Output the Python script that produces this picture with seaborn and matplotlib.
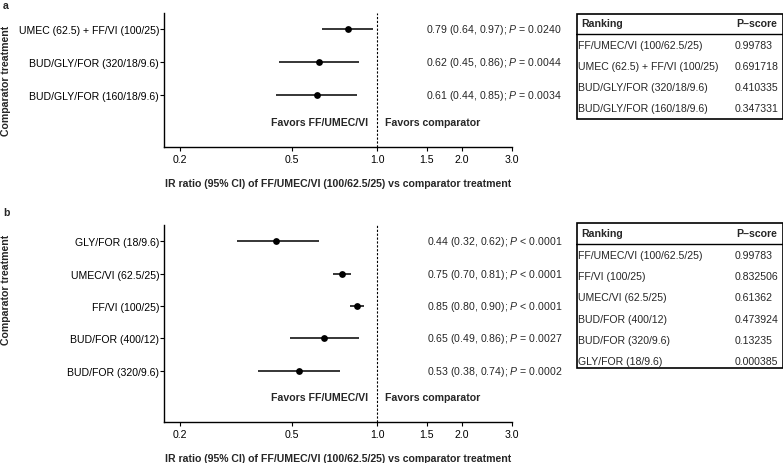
import numpy as np
import pandas as pd
import matplotlib
matplotlib.use("Agg")
import matplotlib.pyplot as plt
import seaborn as sns
from matplotlib.patches import Rectangle
from matplotlib.ticker import FixedLocator, FixedFormatter, NullLocator

sns.set_theme(style="white")
plt.rcParams['font.family'] = ['Liberation Sans', 'DejaVu Sans']
plt.rcParams['mathtext.fontset'] = 'custom'
plt.rcParams['mathtext.rm'] = 'Liberation Sans'
plt.rcParams['mathtext.it'] = 'Liberation Sans:italic'
plt.rcParams['mathtext.bf'] = 'Liberation Sans:bold'

# ---------------- data ----------------
a_labels = ["UMEC (62.5) + FF/VI (100/25)", "BUD/GLY/FOR (320/18/9.6)", "BUD/GLY/FOR (160/18/9.6)"]
a_est = [0.79, 0.62, 0.61]
a_lo = [0.64, 0.45, 0.44]
a_hi = [0.97, 0.86, 0.85]
a_text = ["0.79 (0.64, 0.97); $\\it{P}$ = 0.0240",
          "0.62 (0.45, 0.86); $\\it{P}$ = 0.0044",
          "0.61 (0.44, 0.85); $\\it{P}$ = 0.0034"]
a_rank = ["FF/UMEC/VI (100/62.5/25)", "UMEC (62.5) + FF/VI (100/25)",
          "BUD/GLY/FOR (320/18/9.6)", "BUD/GLY/FOR (160/18/9.6)"]
a_pscore = ["0.99783", "0.691718", "0.410335", "0.347331"]

b_labels = ["GLY/FOR (18/9.6)", "UMEC/VI (62.5/25)", "FF/VI (100/25)",
            "BUD/FOR (400/12)", "BUD/FOR (320/9.6)"]
b_est = [0.44, 0.75, 0.85, 0.65, 0.53]
b_lo = [0.32, 0.70, 0.80, 0.49, 0.38]
b_hi = [0.62, 0.81, 0.90, 0.86, 0.74]
b_text = ["0.44 (0.32, 0.62); $\\it{P}$ < 0.0001",
          "0.75 (0.70, 0.81); $\\it{P}$ < 0.0001",
          "0.85 (0.80, 0.90); $\\it{P}$ < 0.0001",
          "0.65 (0.49, 0.86); $\\it{P}$ = 0.0027",
          "0.53 (0.38, 0.74); $\\it{P}$ = 0.0002"]
b_rank = ["FF/UMEC/VI (100/62.5/25)", "FF/VI (100/25)", "UMEC/VI (62.5/25)",
          "BUD/FOR (400/12)", "BUD/FOR (320/9.6)", "GLY/FOR (18/9.6)"]
b_pscore = ["0.99783", "0.832506", "0.61362", "0.473924", "0.13235", "0.000385"]

xticks = [0.2, 0.5, 1.0, 1.5, 2.0, 3.0]
xticklabels = ["0.2", "0.5", "1.0", "1.5", "2.0", "3.0"]
xlabel = "IR ratio (95% CI) of FF/UMEC/VI (100/62.5/25) vs comparator treatment"
ylabel = "Comparator treatment"

W, H = 783, 464
fig = plt.figure(figsize=(W / 100, H / 100), dpi=100)
FS = 7.6


def px_axes(l, t, r, b):
    return fig.add_axes([l / W, 1 - b / H, (r - l) / W, (b - t) / H])


def forest(ax, labels, est, lo, hi, texts):
    n = len(labels)
    df = pd.DataFrame({"label": labels, "est": est, "lo": lo, "hi": hi, "pos": np.arange(n)})
    ax.hlines(df["pos"], df["lo"], df["hi"], color="black", lw=1.1, zorder=2)
    sns.scatterplot(data=df, x="est", y="pos", ax=ax, color="black", s=24,
                    edgecolor="black", linewidth=0, zorder=3, legend=False)
    ax.set_xscale("log")
    ax.set_xlim(0.176, 3.0)
    ax.set_ylim(n - 1 + 1.58, -0.5)
    ax.axvline(1.0, color="black", lw=0.8, ls=(0, (2, 1.5)), zorder=1)
    ax.xaxis.set_major_locator(FixedLocator(xticks))
    ax.xaxis.set_major_formatter(FixedFormatter(xticklabels))
    ax.xaxis.set_minor_locator(NullLocator())
    ax.set_yticks(range(n))
    ax.set_yticklabels(labels)
    ax.tick_params(axis="both", which="major", length=3, width=0.8, direction="out",
                   labelsize=FS, colors="black", bottom=True, left=True)
    ax.tick_params(axis="x", pad=2)
    ax.tick_params(axis="y", pad=0.5)
    for s in ["top", "right"]:
        ax.spines[s].set_visible(False)
    for s in ["left", "bottom"]:
        ax.spines[s].set_color("black")
        ax.spines[s].set_linewidth(1.0)
    ax.set_xlabel(xlabel, fontsize=FS, fontweight="bold", labelpad=10)
    ax.set_ylabel("")
    ax.grid(False)
    tr = ax.get_yaxis_transform()
    xr = (562 - 164) / (512 - 164)
    for i, t in enumerate(texts):
        ax.text(xr, i, t, transform=tr, ha="right", va="center", fontsize=FS, clip_on=False)
    ax.text(0.93, n - 1 + 0.82, "Favors FF/UMEC/VI", ha="right", va="center",
            fontsize=FS, fontweight="bold")
    ax.text(1.07, n - 1 + 0.82, "Favors comparator", ha="left", va="center",
            fontsize=FS, fontweight="bold")


def table(l, t, r, b, header_y, rows_y, ranks, scores):
    tax = px_axes(l, t, r, b)
    tax.set_xlim(l, r)
    tax.set_ylim(b, t)
    tax.axis("off")
    tax.add_patch(Rectangle((l + 0.5, t + 0.5), r - l - 1, b - t - 1, fill=False,
                            edgecolor="black", lw=1.2, clip_on=False))
    tax.plot([l, r], [header_y + 11, header_y + 11], color="black", lw=1.0)
    tax.text(l + 5, header_y, "Ranking", fontsize=FS, fontweight="bold", va="center", ha="left")
    tax.text(736, header_y, "P\u2013score", fontsize=FS, fontweight="bold", va="center", ha="left")
    for y, rk, sc in zip(rows_y, ranks, scores):
        tax.text(l + 2, y, rk, fontsize=FS, va="center", ha="left")
        tax.text(735, y, sc, fontsize=FS, va="center", ha="left")


ax_a = px_axes(164, 14, 512, 148)
forest(ax_a, a_labels, a_est, a_lo, a_hi, a_text)
ax_b = px_axes(164, 226, 512, 423)
forest(ax_b, b_labels, b_est, b_lo, b_hi, b_text)

fig.text(6 / W, 1 - 81 / H, ylabel, rotation=90, ha="center", va="center",
         fontsize=FS, fontweight="bold")
fig.text(6 / W, 1 - 290 / H, ylabel, rotation=90, ha="center", va="center",
         fontsize=FS, fontweight="bold")
fig.text(3 / W, 1 - 6 / H, "a", ha="left", va="center", fontsize=FS, fontweight="bold")
fig.text(3 / W, 1 - 213 / H, "b", ha="left", va="center", fontsize=FS, fontweight="bold")

table(576, 14, 783, 120, 24, [46, 67, 88, 109], a_rank, a_pscore)
table(576, 223, 783, 369, 234, [256, 277, 298, 320, 341, 362], b_rank, b_pscore)

fig.savefig("out.png", dpi=100)
